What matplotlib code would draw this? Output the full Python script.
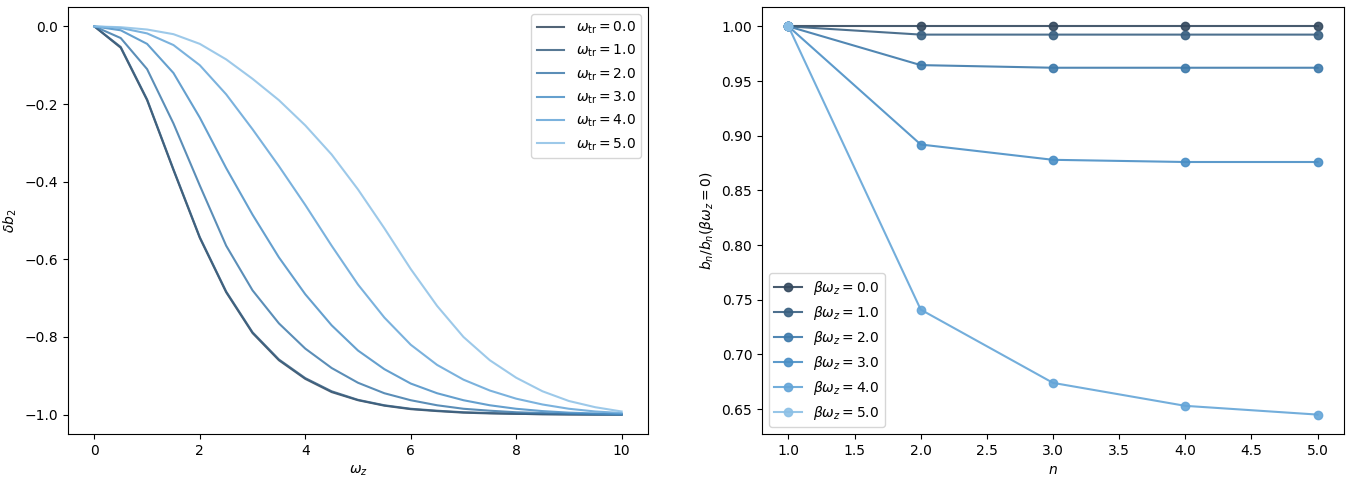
import numpy as np
import matplotlib
matplotlib.use("Agg")
import matplotlib.pyplot as plt

# Painel esquerdo: delta b_2 em funcao de omega_z, para varios omega_tr
omega_tr = [0.0, 1.0, 2.0, 3.0, 4.0, 5.0]
omega_z = [0.0, 0.5, 1.0, 1.5, 2.0, 2.5, 3.0, 3.5, 4.0, 4.5, 5.0,
           5.5, 6.0, 6.5, 7.0, 7.5, 8.0, 8.5, 9.0, 9.5, 10.0]

db2_tr0 = [0.0, -0.055, -0.19, -0.37, -0.545, -0.685, -0.79, -0.86, -0.908, -0.942, -0.963,
           -0.977, -0.986, -0.991, -0.995, -0.997, -0.998, -0.999, -1.0, -1.0, -1.0]
db2_tr1 = [0.0, -0.053, -0.188, -0.368, -0.543, -0.683, -0.788, -0.858, -0.906, -0.94, -0.962,
           -0.976, -0.985, -0.99, -0.994, -0.996, -0.998, -0.999, -0.999, -1.0, -1.0]
db2_tr2 = [0.0, -0.03, -0.11, -0.25, -0.41, -0.565, -0.68, -0.765, -0.83, -0.88, -0.918,
           -0.945, -0.963, -0.976, -0.985, -0.99, -0.994, -0.996, -0.998, -0.999, -1.0]
db2_tr3 = [0.0, -0.01, -0.045, -0.12, -0.235, -0.365, -0.485, -0.595, -0.69, -0.77, -0.835,
           -0.883, -0.92, -0.945, -0.963, -0.976, -0.985, -0.991, -0.995, -0.997, -0.999]
db2_tr4 = [0.0, -0.004, -0.018, -0.048, -0.1, -0.175, -0.265, -0.36, -0.46, -0.565, -0.665,
           -0.75, -0.82, -0.872, -0.91, -0.938, -0.959, -0.974, -0.985, -0.992, -0.996]
db2_tr5 = [0.0, -0.002, -0.008, -0.02, -0.045, -0.085, -0.135, -0.19, -0.255, -0.33, -0.42,
           -0.52, -0.625, -0.72, -0.8, -0.86, -0.905, -0.94, -0.965, -0.981, -0.992]
db2 = [db2_tr0, db2_tr1, db2_tr2, db2_tr3, db2_tr4, db2_tr5]

# Painel direito: b_n / b_n(beta*omega_z = 0)
beta_wz = [0.0, 1.0, 2.0, 3.0, 4.0, 5.0]
n_vals = [1.0, 2.0, 3.0, 4.0, 5.0]
razao_b0 = [1.0, 1.0, 1.0, 1.0, 1.0]
razao_b1 = [1.0, 0.9925, 0.9925, 0.9925, 0.9925]
razao_b2 = [1.0, 0.9646, 0.9622, 0.9622, 0.9622]
razao_b3 = [1.0, 0.892, 0.878, 0.876, 0.876]
razao_b4 = [1.0, 0.741, 0.674, 0.653, 0.645]
razao_b5 = [1.0, np.nan, np.nan, np.nan, np.nan]
razao = [razao_b0, razao_b1, razao_b2, razao_b3, razao_b4, razao_b5]

cores = ["#34495e", "#3a6182", "#3e7aab", "#4a8fc6", "#64a5d8", "#8cc0e6"]

fig = plt.figure(figsize=(13.54, 4.86), dpi=100)
ax1 = fig.add_axes([68/1354, 52/486, 580/1354, 427/486])
ax2 = fig.add_axes([762/1354, 52/486, 582/1354, 427/486])

for i in range(len(omega_tr)):
    ax1.plot(omega_z, db2[i], color=cores[i], alpha=0.85,
             label=r"$\omega_{\rm tr} = %.1f$" % omega_tr[i])
ax1.set_xlabel(r"$\omega_z$")
ax1.set_ylabel(r"$\delta b_2$")
ax1.yaxis.set_label_coords(-0.085, 0.5)
ax1.legend(loc="upper right")

for i in range(len(beta_wz)):
    ax2.plot(n_vals, razao[i], "o-", color=cores[i], alpha=0.9,
             label=r"$\beta\omega_z = %.1f$" % beta_wz[i])
ax2.set_xlabel(r"$n$")
ax2.set_ylabel(r"$b_n/b_n(\beta\omega_z = 0)$")
ax2.legend(loc="lower left")

fig.savefig("out.png", dpi=100)
